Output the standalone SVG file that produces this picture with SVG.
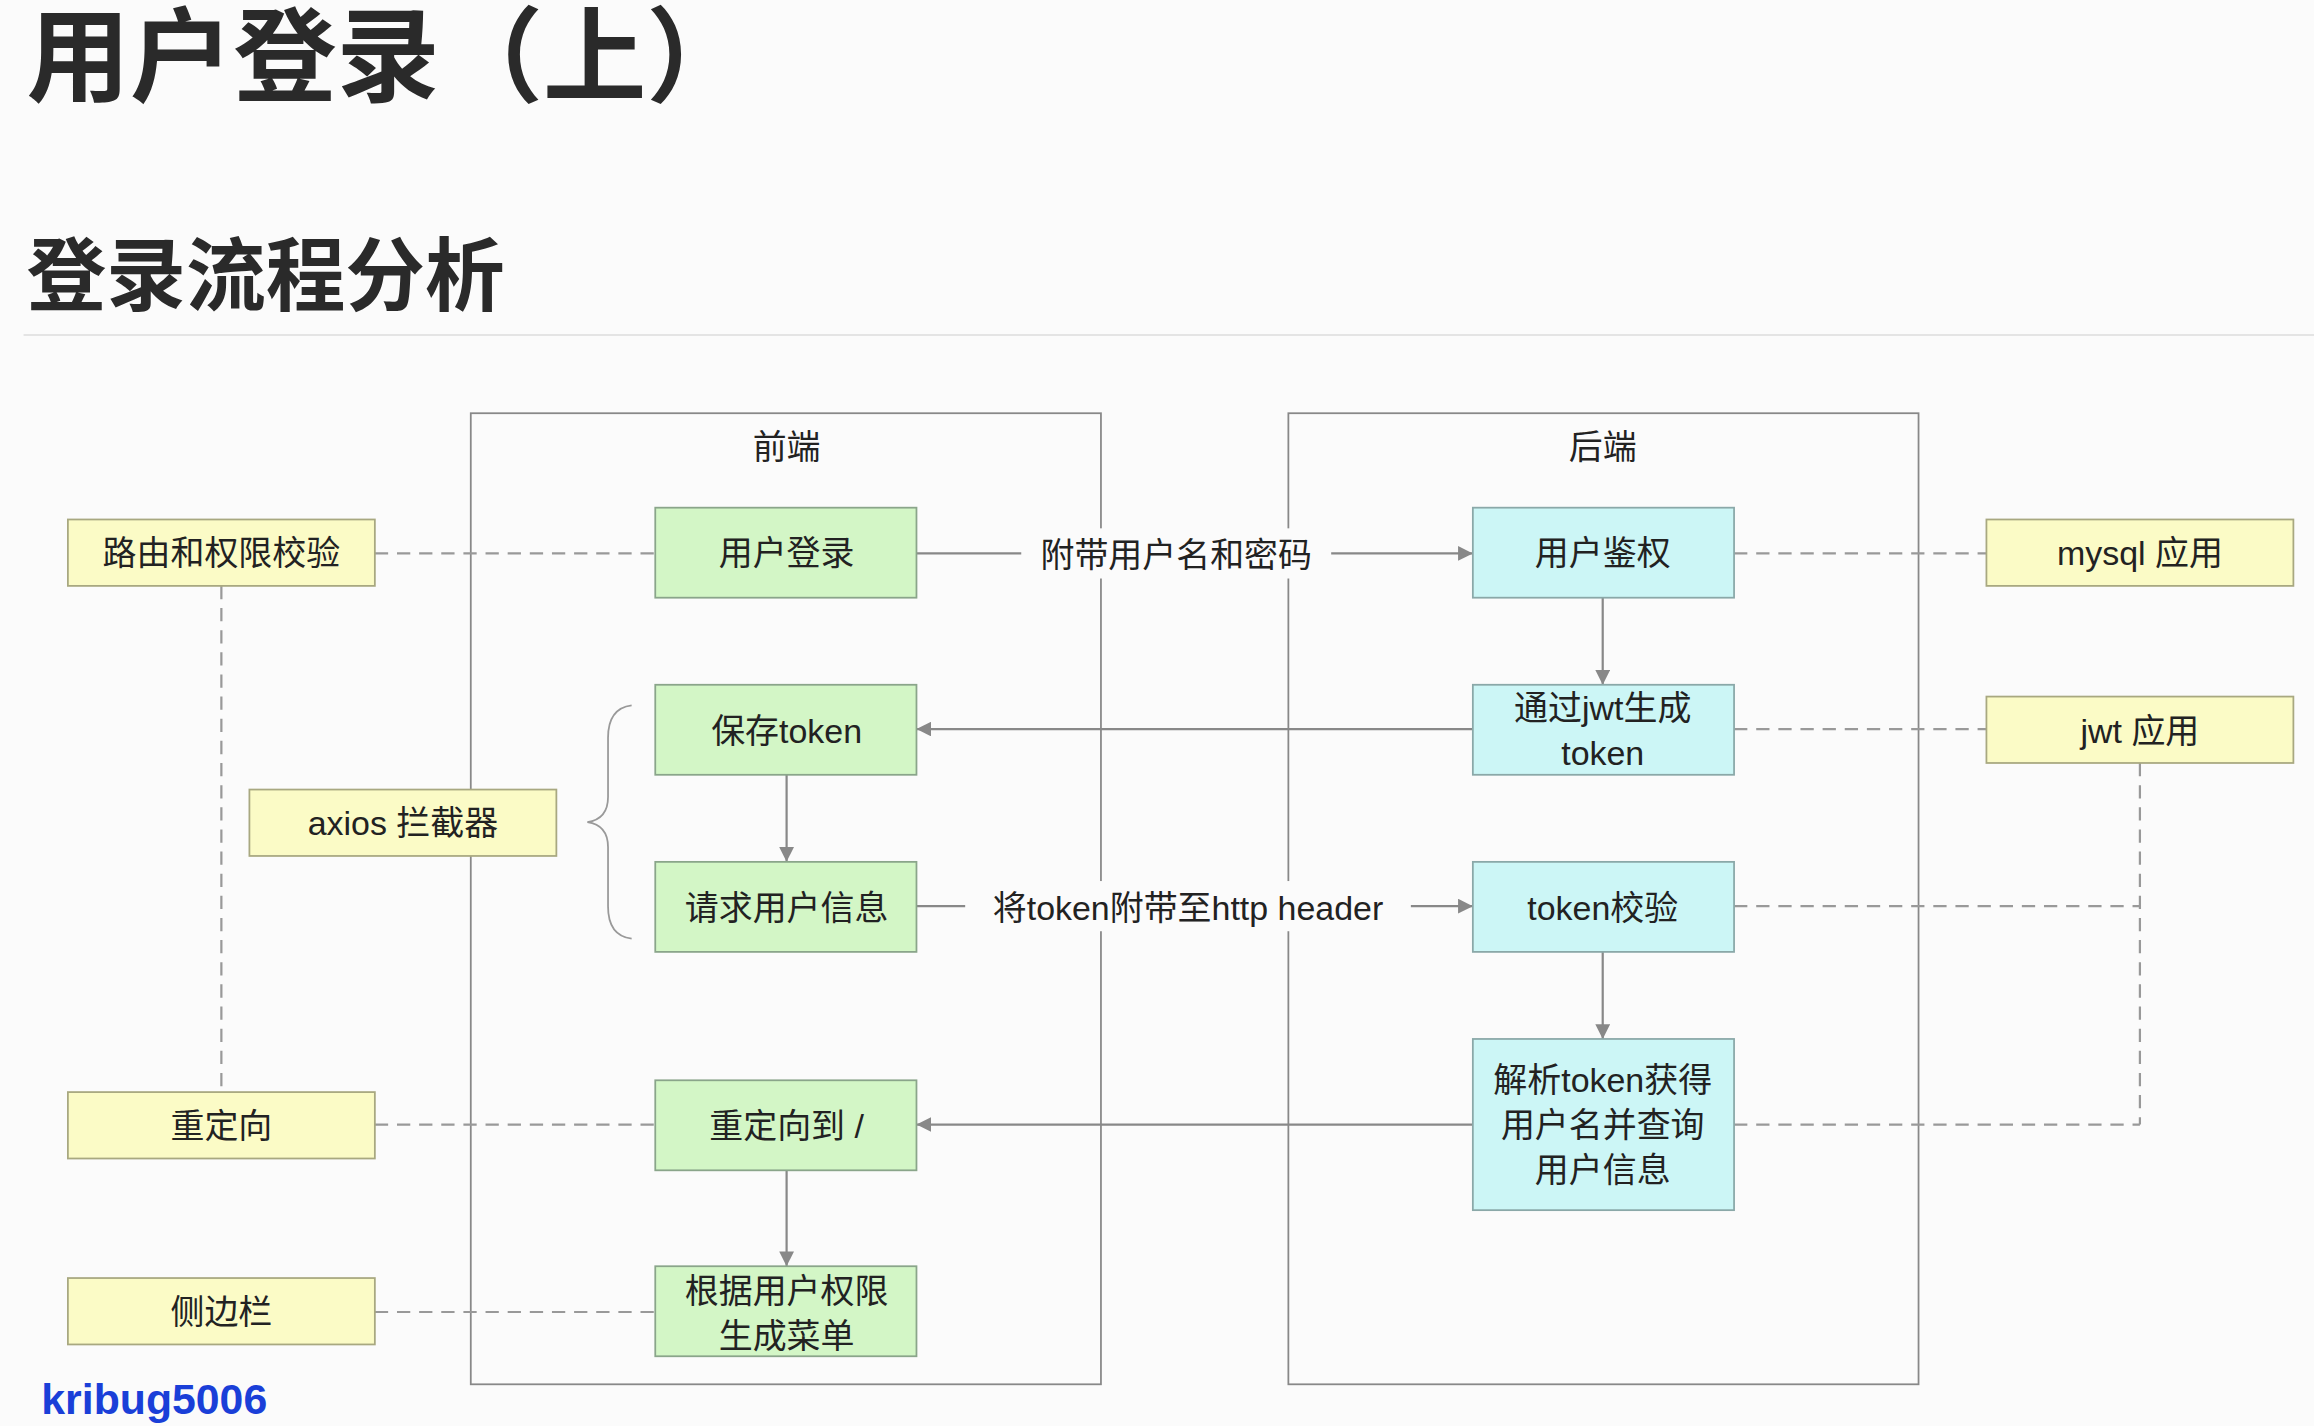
<svg xmlns="http://www.w3.org/2000/svg" width="2314" height="1426" viewBox="0 0 2314 1426">
<style>
text{font-family:"Liberation Sans","Noto Sans CJK SC",sans-serif;fill:#222}
.n{font-size:23px;text-anchor:middle;dominant-baseline:central}
.g{fill:#d3f6c6;stroke:#8aa58a;stroke-width:1.2}
.c{fill:#ccf6f6;stroke:#8aa8a8;stroke-width:1.2}
.y{fill:#fbfbc6;stroke:#a8a880;stroke-width:1.2}
.fr{fill:none;stroke:#888;stroke-width:1.2}
.s{stroke:#888;stroke-width:1.5;fill:none}
.d{stroke:#999;stroke-width:1.5;fill:none;stroke-dasharray:9 6}
.bg{fill:#fbfbfb}
</style>
<defs><marker id="a" viewBox="0 0 10 10" refX="10" refY="5" markerWidth="10" markerHeight="10" markerUnits="userSpaceOnUse" orient="auto"><path d="M0,0L10,5L0,10z" fill="#888"/></marker></defs>
<rect width="2314" height="1426" fill="#fbfbfb"/>
<g transform="scale(1.4758)">
<text x="18" y="64" style="font-size:70px;font-weight:bold;fill:#2a2a2a">用户登录（上）</text>
<text x="18" y="206" style="font-size:54px;font-weight:bold;fill:#2a2a2a">登录流程分析</text>
<line x1="16" y1="227" x2="1568" y2="227" stroke="#e4e4e4" stroke-width="1.5"/>
<g id="frontend"><rect class="fr" x="319" y="280" width="427" height="658"/><text class="n" x="533" y="303">前端</text></g>
<g id="backend"><rect class="fr" x="873" y="280" width="427" height="658"/><text class="n" x="1086" y="303">后端</text></g>
<g id="connectors">
<line class="d" x1="254" y1="375" x2="444" y2="375"/>
<line class="d" x1="150" y1="397" x2="150" y2="740"/>
<line class="s" x1="621" y1="375" x2="998" y2="375" marker-end="url(#a)"/>
<rect class="bg" x="692" y="358" width="210" height="34"/>
<text class="n" x="797" y="376">附带用户名和密码</text>
<line class="d" x1="1175" y1="375" x2="1346" y2="375"/>
<line class="s" x1="1086" y1="405" x2="1086" y2="464" marker-end="url(#a)"/>
<line class="s" x1="998" y1="494" x2="621" y2="494" marker-end="url(#a)"/>
<line class="d" x1="1175" y1="494" x2="1346" y2="494"/>
<line class="s" x1="533" y1="525" x2="533" y2="584" marker-end="url(#a)"/>
<line class="s" x1="621" y1="614" x2="998" y2="614" marker-end="url(#a)"/>
<rect class="bg" x="654" y="597" width="302" height="34"/>
<text class="n" x="805" y="615">将token附带至http header</text>
<line class="d" x1="1175" y1="614" x2="1450" y2="614"/>
<line class="d" x1="1450" y1="517" x2="1450" y2="762"/>
<line class="d" x1="1175" y1="762" x2="1450" y2="762"/>
<line class="s" x1="1086" y1="645" x2="1086" y2="704" marker-end="url(#a)"/>
<line class="s" x1="998" y1="762" x2="621" y2="762" marker-end="url(#a)"/>
<line class="d" x1="254" y1="762" x2="444" y2="762"/>
<line class="s" x1="533" y1="793" x2="533" y2="858" marker-end="url(#a)"/>
<line class="d" x1="254" y1="889" x2="444" y2="889"/>
<path d="M428,478 Q412,480 412,500 L412,540 Q412,555 398,557 Q412,559 412,574 L412,614 Q412,634 428,636" fill="none" stroke="#999" stroke-width="1.2"/>
</g>
<g id="n1"><rect class="g" x="444" y="344" width="177" height="61"/><text class="n" x="533" y="375">用户登录</text></g>
<g id="n2"><rect class="g" x="444" y="464" width="177" height="61"/><text class="n" x="533" y="495">保存token</text></g>
<g id="n3"><rect class="g" x="444" y="584" width="177" height="61"/><text class="n" x="533" y="615">请求用户信息</text></g>
<g id="n4"><rect class="g" x="444" y="732" width="177" height="61"/><text class="n" x="533" y="763">重定向到 /</text></g>
<g id="n5"><rect class="g" x="444" y="858" width="177" height="61"/><text class="n" x="533" y="875">根据用户权限</text><text class="n" x="533" y="905">生成菜单</text></g>
<g id="b1"><rect class="c" x="998" y="344" width="177" height="61"/><text class="n" x="1086" y="375">用户鉴权</text></g>
<g id="b2"><rect class="c" x="998" y="464" width="177" height="61"/><text class="n" x="1086" y="480">通过jwt生成</text><text class="n" x="1086" y="510">token</text></g>
<g id="b3"><rect class="c" x="998" y="584" width="177" height="61"/><text class="n" x="1086" y="615">token校验</text></g>
<g id="b4"><rect class="c" x="998" y="704" width="177" height="116"/><text class="n" x="1086" y="732">解析token获得</text><text class="n" x="1086" y="762">用户名并查询</text><text class="n" x="1086" y="793">用户信息</text></g>
<g id="y1"><rect class="y" x="46" y="352" width="208" height="45"/><text class="n" x="150" y="375">路由和权限校验</text></g>
<g id="y2"><rect class="y" x="169" y="535" width="208" height="45"/><text class="n" x="273" y="558">axios 拦截器</text></g>
<g id="y3"><rect class="y" x="46" y="740" width="208" height="45"/><text class="n" x="150" y="763">重定向</text></g>
<g id="y4"><rect class="y" x="46" y="866" width="208" height="45"/><text class="n" x="150" y="889">侧边栏</text></g>
<g id="y5"><rect class="y" x="1346" y="352" width="208" height="45"/><text class="n" x="1450" y="375">mysql 应用</text></g>
<g id="y6"><rect class="y" x="1346" y="472" width="208" height="45"/><text class="n" x="1450" y="495">jwt 应用</text></g>
<text x="28" y="958" style="font-size:29px;font-weight:bold;fill:#1a3fd8">kribug5006</text>
</g>
</svg>
